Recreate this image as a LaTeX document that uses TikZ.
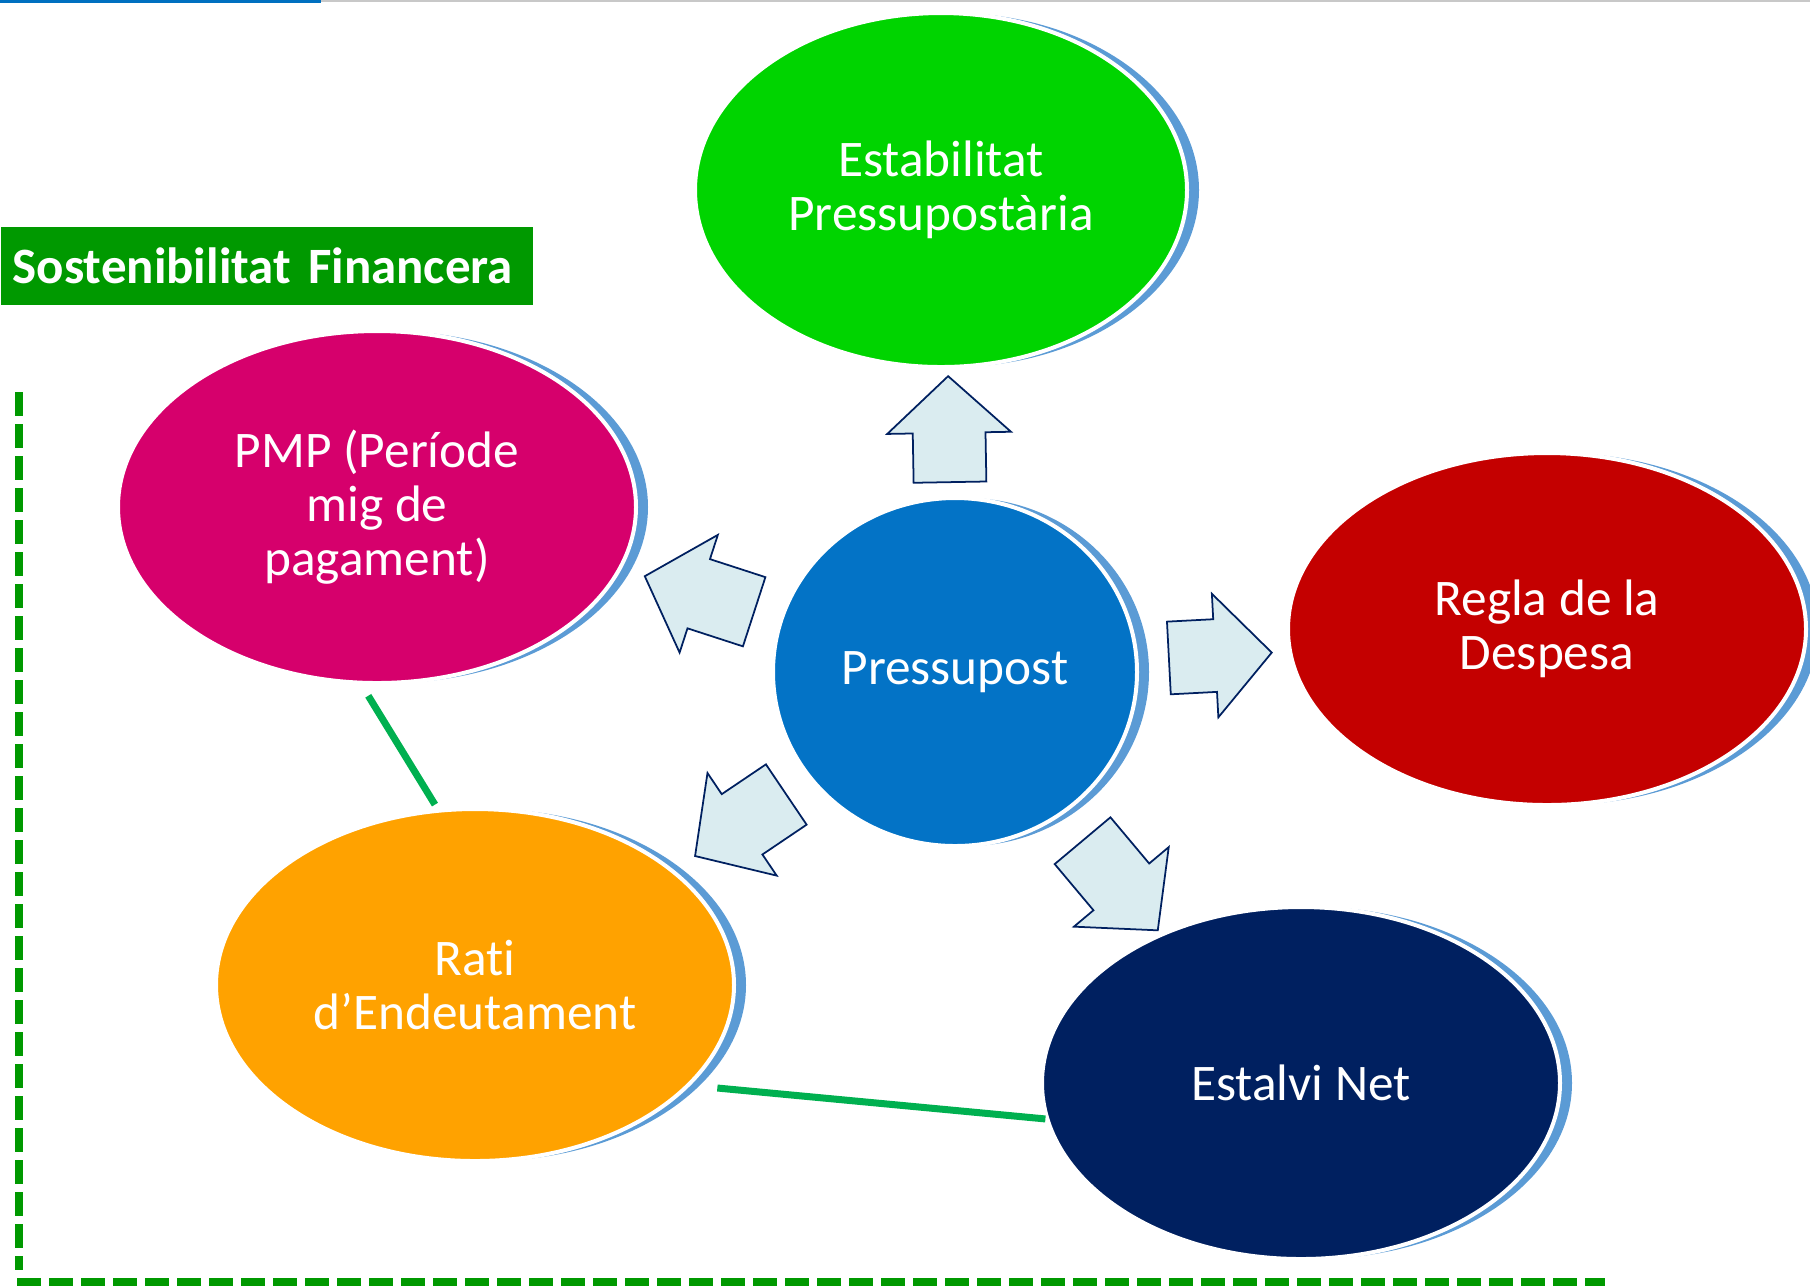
\documentclass[tikz,border=0pt]{standalone}
\usepackage{fontspec}
\setmainfont{Carlito}[Ligatures=NoCommon]
\usetikzlibrary{shapes.geometric,shapes.arrows,shadows}

\definecolor{estgreen}{RGB}{0,212,0}
\definecolor{pmppink}{RGB}{214,0,108}
\definecolor{presblue}{RGB}{3,115,198}
\definecolor{reglared}{RGB}{196,0,0}
\definecolor{ratiorange}{RGB}{255,162,0}
\definecolor{netnavy}{RGB}{0,32,96}
\definecolor{ringblue}{RGB}{91,155,213}
\definecolor{arrowfill}{RGB}{218,236,240}
\definecolor{titlegreen}{RGB}{0,153,0}
\definecolor{linkgreen}{RGB}{0,176,80}
\definecolor{topblue}{RGB}{0,112,192}
\definecolor{topgray}{RGB}{200,200,200}

\tikzset{
  bubble/.style={ellipse, draw=white, line width=0.04cm,
    minimum width=5.18cm, minimum height=3.52cm,
    text=white, align=center,
    font=\fontsize{14.6pt}{15.4pt}\selectfont,
    drop shadow={shadow xshift=0.12cm, shadow yshift=0cm,
      fill=ringblue, opacity=1}},
  blockarrow/.style={single arrow, draw=netnavy, fill=arrowfill,
    line width=0.5pt, inner xsep=0pt, inner ysep=0.355cm, anchor=tail,
    single arrow head extend=0.255cm,
    single arrow tip angle=95},
  greenlink/.style={draw=linkgreen, line width=0.07cm},
  borderdash/.style={titlegreen, line width=0.08cm,
    dash pattern=on 0.24cm off 0.08cm}
}

\begin{document}
\begin{tikzpicture}

    \useasboundingbox (0,0) rectangle (18.10,-12.86);

    % rule along the top
    \draw[topblue, line width=0.03cm] (0,-0.01) -- (3.21,-0.01);
    \draw[topgray, line width=0.02cm] (3.21,-0.01) -- (18.10,-0.01);

    \node[fill=titlegreen, text=white, anchor=north west,
      minimum width=5.32cm, minimum height=0.78cm,
      text width=5.08cm, inner xsep=0.12cm, align=left,
      font=\bfseries\fontsize{14.5pt}{16pt}\selectfont] (title) at (0,-2.26) {Sostenibilitat Financera};

    \draw[borderdash] (0.19,-3.92) -- (0.19,-12.70);
    \draw[borderdash] (0.17,-12.82) -- (16.05,-12.82);

    \node[bubble, fill=estgreen,
      minimum width=4.92cm,
      minimum height=3.54cm] (est) at (9.41,-1.90) {Estabilitat\\Pressupostària};

    \node[bubble, fill=pmppink] (pmp) at (3.77,-5.07) {PMP (Període\\mig de\\pagament)};

    \node[bubble, fill=presblue,
      minimum width=3.64cm,
      minimum height=3.48cm] (pres) at (9.55,-6.72) {Pressupost};

    \node[bubble, fill=reglared] (regla) at (15.47,-6.29) {Regla de la\\Despesa};

    \node[bubble, fill=ratiorange] (rati) at (4.75,-9.85) {Rati\\d’Endeutament};

    \node[bubble, fill=netnavy] (net) at (13.01,-10.83) {Estalvi Net};

    % block arrows out of the centre
    \node[blockarrow, minimum height=1.06cm, rotate=91] (toest) at (9.50,-4.83) {};
    \node[blockarrow, minimum height=1.15cm, rotate=162] (topmp) at (7.55,-6.12) {};
    \node[blockarrow, minimum height=1.03cm, rotate=3] (toregla) at (11.68,-6.58) {};
    \node[blockarrow, minimum height=1.10cm, rotate=214] (torati) at (7.87,-7.94) {};
    \node[blockarrow, minimum height=1.17cm, rotate=-50] (tonet) at (10.82,-8.40) {};

    \draw[greenlink, shorten <=0.13cm, shorten >=0.05cm] (pmp.265) -- (rati.102);
    \draw[greenlink, shorten <=0.27cm] (rati.335) -- (net.188);

\end{tikzpicture}
\end{document}
